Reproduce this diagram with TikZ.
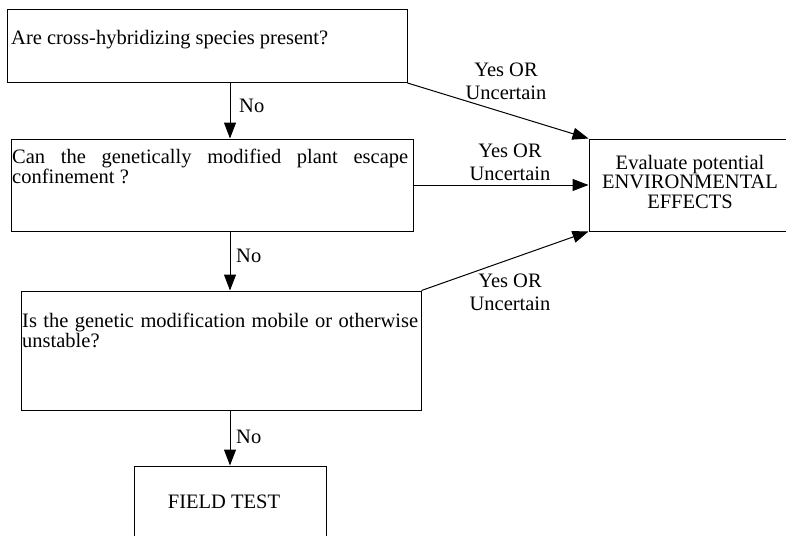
\documentclass[tikz,border=0pt]{standalone}
\usepackage{fontspec}
\setmainfont{Liberation Serif}
\usetikzlibrary{arrows.meta}
\hyphenpenalty=10000
\exhyphenpenalty=10000
\hbadness=10000
\begin{document}
\begin{tikzpicture}[x=1pt,y=-1pt,
  every node/.style={font=\fontsize{20.5}{23}\selectfont},
  box/.style={draw, line width=1pt, inner sep=0pt},
  txt/.style={inner sep=0pt},
  arr/.style={line width=1pt, -{Triangle[length=16pt,width=12pt]}},
  lbl/.style={inner sep=0pt, align=center}]
\useasboundingbox (0,0) rectangle (786,535);
\clip (0,0) rectangle (786,535);
% boxes
\node[box, minimum width=400pt, minimum height=73pt] (q1) at (207,46) {};
\node[box, minimum width=402pt, minimum height=92pt] (q2) at (212,185) {};
\node[box, minimum width=400pt, minimum height=119pt] (q3) at (221,350.5) {};
\node[box, minimum width=231pt, minimum height=92pt] (env) at (704.5,185) {};
\node[box, minimum width=192pt, minimum height=114pt] (field) at (230,523) {};
% texts
\node[txt, anchor=base west] (t1) at (11,45) {Are cross-hybridizing species present?};
\node[txt, anchor=north west, text width=396pt, align=justify,
      font=\fontsize{20.5}{15}\selectfont] (t2) at (12,149)
      {Can the genetically modified plant escape confinement ?};
\node[txt, anchor=north west, text width=396pt, align=justify,
      font=\fontsize{20.5}{18}\selectfont] (t3) at (22,313)
      {Is the genetic modification mobile or otherwise unstable?};
\node[txt, anchor=north, align=center,
      font=\fontsize{20.5}{19.5}\selectfont] (t4) at (690,155)
      {Evaluate potential\\ENVIRONMENTAL\\EFFECTS};
\node[txt, anchor=base] (t5) at (224,508) {FIELD TEST};
% connectors
\draw[arr] (q1.south -| field.north) -- (q2.north -| field.north);
\draw[arr] (q2.south -| field.north) -- (q3.north -| field.north);
\draw[arr] (q3.south -| field.north) -- (field.north);
\draw[arr] (q1.south east) -- (env.north west);
\draw[arr] (q2.east) -- (env.west);
\draw[arr] (q3.north east) -- (env.south west);
% labels
\node[txt, anchor=base west] (n1) at (239,112) {No};
\node[txt, anchor=base west] (n2) at (236,262) {No};
\node[txt, anchor=base west] (n3) at (236,443) {No};
\node[lbl] (y1) at (506,81) {Yes OR\\Uncertain};
\node[lbl] (y2) at (510,162) {Yes OR\\Uncertain};
\node[lbl] (y3) at (510,292) {Yes OR\\Uncertain};
\end{tikzpicture}
\end{document}
